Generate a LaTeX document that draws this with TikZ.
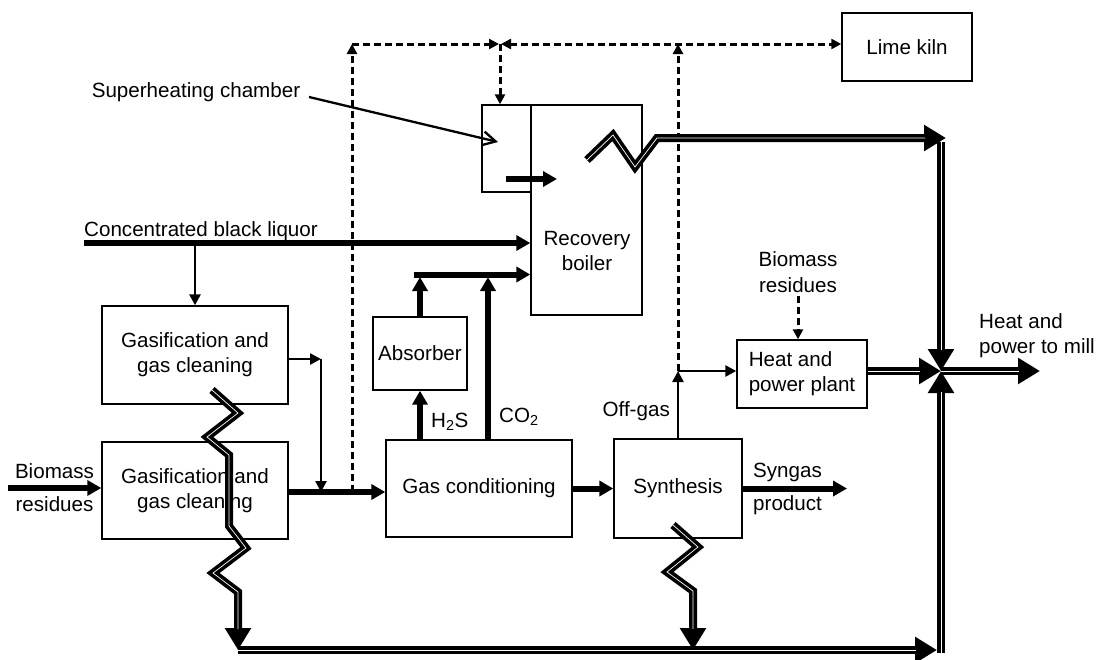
\documentclass[tikz,border=0pt]{standalone}
\usepackage{fontspec}
\setmainfont{Liberation Sans}
\usetikzlibrary{arrows.meta}
\begin{document}
\begin{tikzpicture}[x=1pt,y=-1pt,
  every node/.style={font=\fontsize{20.6pt}{25pt}\selectfont, inner sep=0pt},
  box/.style={draw, line width=1.4pt, rectangle, align=center},
  slim/.style={line width=2.5pt, -{Triangle[length=11pt,width=11pt]}},
  fat/.style={line width=6pt, -{Triangle[length=14pt,width=15pt]}},
  dashline/.style={line width=3pt, dash pattern=on 7pt off 4pt, -{Triangle[length=10pt,width=10pt]}},
  heatarrow/.style={line width=8pt, line join=miter, -{Triangle[length=22pt,width=25pt]},
     postaction={draw=white, line width=0.7pt, -, shorten >=21pt}},
]
\useasboundingbox (0,0) rectangle (1098,659);

% boxes
\node[box, minimum width=130pt, minimum height=68pt] (lime) at (907,47) {Lime kiln};
\node[box, minimum width=49pt, minimum height=87pt] (shc) at (506.5,148.5) {};
\node[box, minimum width=111pt, minimum height=210pt] (boiler) at (586.5,210) {};
\node[align=center] (boilertxt) at (587,251) {Recovery\\boiler};
\node[box, minimum width=186pt, minimum height=98pt] (gas1) at (195,355) {Gasification and\\gas cleaning};
\node[box, minimum width=186pt, minimum height=97pt] (gas2) at (195,490.5) {Gasification and\\gas cleaning};
\node[box, minimum width=94pt, minimum height=73pt] (absorber) at (420,353.5) {Absorber};
\node[box, minimum width=186pt, minimum height=97pt] (gascond) at (479,488.5) {Gas conditioning};
\node[box, minimum width=128pt, minimum height=99pt] (synth) at (678,488.5) {Synthesis};
\node[box, minimum width=130pt, minimum height=68pt, align=left] (hpp) at (802,374) {Heat and\\power plant};

% labels
\node[anchor=base] (shclab) at (196,97) {Superheating chamber};
\node[anchor=base west] (bllab) at (84,236) {Concentrated black liquor};
\node[anchor=base] (bioA) at (54.5,478) {Biomass};
\node[anchor=base] (bioB) at (54.5,511) {residues};
\node[anchor=base west] (h2s) at (431,427) {H\textsubscript{2}S};
\node[anchor=base west] (co2) at (499,422) {CO\textsubscript{2}};
\node[anchor=base east] (offgas) at (670,416) {Off-gas};
\node[anchor=base west] (syngA) at (753,477) {Syngas};
\node[anchor=base west] (syngB) at (753,510) {product};
\node[anchor=base] (bio2A) at (798,266) {Biomass};
\node[anchor=base] (bio2B) at (798,292) {residues};
\node[anchor=base west] (millA) at (979,328) {Heat and};
\node[anchor=base west] (millB) at (979,353) {power to mill};

% coordinates
\coordinate (blS) at (84,243);
\coordinate (blB) at (195,243);
\coordinate (g1c) at (321,359);
\coordinate (g1j) at (321,492);
\coordinate (bioin) at (8,488);
\coordinate (dA) at (352,492);
\coordinate (dB) at (352,44);
\coordinate (dC) at (500,44);
\coordinate (dD) at (678,44);
\coordinate (offj) at (678,371);
\coordinate (absT) at (420,277);
\coordinate (co2T) at (488,277);
\coordinate (hz) at (414,274.5);
\coordinate (shcA) at (506,179);
\coordinate (shcB) at (557,179);
\coordinate (shcP) at (309,97);
\coordinate (shcT) at (498,142);
\coordinate (synO) at (847,488.5);
\coordinate (bioT) at (798,296);
\coordinate (J) at (941,371);
\coordinate (out) at (1040,371);
\coordinate (zbS) at (587,160);
\coordinate (trH) at (946,138);
\coordinate (trV) at (941,142);
\coordinate (z1S) at (212,390);
\coordinate (z1E) at (238,650);
\coordinate (z2S) at (673,525);
\coordinate (z2E) at (693,650);
\coordinate (brH) at (937,650);
\coordinate (brV) at (941,653);

% process streams
\draw[fat] (blS) -- (blS -| boiler.west);
\draw[slim] (blB) -- (gas1.north);
\draw[slim] (gas1.east |- g1c) -- (g1c);
\draw[slim] (g1c) -- (g1j);
\draw[fat] (gas2.east |- g1j) -- (gascond.west |- g1j);
\draw[fat] (bioin) -- (gas2.west |- bioin);
\draw[fat] (absorber.south |- gascond.north) -- (absorber.south);
\draw[fat] (absorber.north) -- (absT);
\draw[fat] (co2T |- gascond.north) -- (co2T);
\draw[fat] (hz) -- (hz -| boiler.west);
\draw[fat] (gascond.east) -- (synth.west);
\draw[fat] (synth.east) -- (synO);
\draw[fat] (shcA) -- (shcB);
\draw[slim] (synth.north) -- (offj);
\draw[slim] (offj) -- (offj -| hpp.west);
\draw[line width=2.3pt, -{Straight Barb[length=13pt,width=14pt]}] (shcP) -- (shcT);

% dashed streams
\draw[dashline] (dA) -- (dB);
\draw[dashline] (dB) -- ([xshift=-1pt]dC);
\draw[dashline, {Triangle[length=10pt,width=10pt]}-{Triangle[length=10pt,width=10pt]}] ([xshift=1pt]dC) -- (dC -| lime.west);
\draw[dashline] (dC) -- (dC |- shc.north);
\draw[dashline] (offj) -- (dD);
\draw[dashline] (bioT) -- (bioT |- hpp.north);

% heat streams
\draw[heatarrow] (J) -- (out);
\draw[heatarrow] (zbS) -- (613,135) -- (635,167) -- (657,138) -- (trH);
\draw[heatarrow] (trV) -- (J);
\draw[heatarrow] (hpp.east |- J) -- (J);
\draw[heatarrow] (brV) -- (J);
\draw[heatarrow] (z1S) -- (238,413) -- (207,437) -- (229,455) -- (229,526) -- (246,548) -- (213,573) -- (238,592) -- (z1E);
\draw[heatarrow] (z2S) -- (698,547) -- (667,572) -- (693,591) -- (z2E);
\draw[heatarrow] (z1E) -- (brH);
\end{tikzpicture}
\end{document}
